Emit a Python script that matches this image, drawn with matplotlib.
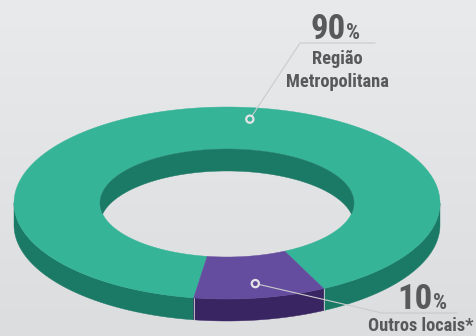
import numpy as np
import matplotlib.pyplot as plt
from matplotlib.colors import LinearSegmentedColormap
from matplotlib.patches import Polygon, Circle

# shares of the ring
labels = [['Região', 'Metropolitana'], ['Outros locais*']]
values = [90, 10]
pct_text = ['90', '10']

top_colors = ['#36b498', '#644d9e']
side_colors = ['#1b7a66', '#3a2563']
ink = '#58595b'
font = ['Roboto Condensed', 'DejaVu Sans']

# ellipse geometry of the ring (pixel space, y pointing down)
cx, cy = 227, 203
a_out, b_out = 213, 96
a_in, b_in = 127, 54
depth = 22
start = 261.0  # small slice centred near the front


def ell(a, b, t, dy=0.0):
    t = np.radians(t)
    return np.column_stack([cx + a * np.cos(t), cy + dy - b * np.sin(t)])


fig = plt.figure(figsize=(4.76, 3.36), dpi=100)
ax = fig.add_axes([0, 0, 1, 1])
ax.set_xlim(0, 476)
ax.set_ylim(336, 0)
ax.axis('off')

# soft grey backdrop
grad = np.linspace(0, 1, 256)[:, None]
bg = LinearSegmentedColormap.from_list('bg', ['#e9eaeb', '#dcdddf'])
ax.imshow(grad, extent=[0, 476, 336, 0], cmap=bg, aspect='auto', zorder=0)

# angle span of each slice: big one first, small one starting at `start`
small = values[1] / sum(values) * 360
spans = [(start + small, start + 360), (start, start + small)]

# outer side wall (front half only)
for (t0, t1), col in zip(spans, side_colors):
    for lo, hi in [(180, 360), (540, 720)]:
        s, e = max(t0, lo), min(t1, hi)
        if e <= s:
            continue
        t = np.linspace(s, e, 120)
        pts = np.vstack([ell(a_out, b_out, t), ell(a_out, b_out, t[::-1], depth)])
        ax.add_patch(Polygon(pts, closed=True, fc=col, ec=col, lw=0.3, zorder=2))

# thin seam between side colours
for t in spans[1]:
    p = ell(a_out, b_out, [t])[0]
    ax.plot([p[0], p[0]], [p[1], p[1] + depth], color='#cfd0d2', lw=0.6, zorder=3)

# top face
for (t0, t1), col in zip(spans, top_colors):
    t = np.linspace(t0, t1, 300)
    pts = np.vstack([ell(a_out, b_out, t), ell(a_in, b_in, t[::-1])])
    ax.add_patch(Polygon(pts, closed=True, fc=col, ec=col, lw=0.3, zorder=4))

# inner back wall seen through the hole
al = np.degrees(np.arcsin(depth / (2 * b_in)))
t = np.linspace(-al, 180 + al, 200)
s = np.linspace(180 - al, al, 200)
pts = np.vstack([ell(a_in, b_in, t), ell(a_in, b_in, s, depth)])
ax.add_patch(Polygon(pts, closed=True, fc=side_colors[0], ec=side_colors[0], lw=0.3, zorder=4))

# leader markers and labels
anchors = [ell(a_out * 0.88, b_out * 0.88, [83])[0],
           ell(a_out * 0.85, b_out * 0.85, [(spans[1][0] + spans[1][1]) / 2])[0]]
elbows = [(300, 43, 375), (382, 313, 457)]
num_x = [346, 433]
num_y = [39, 309]
text_x = [337, 421]
lab_y = [[64, 87], [331]]

for i in range(2):
    px, py = anchors[i]
    ex, ey, ex2 = elbows[i]
    ax.plot([px, ex, ex2], [py, ey, ey], color='#cacbcd', lw=0.8, zorder=5)
    ax.add_patch(Circle((px, py), 3.6, fc=top_colors[i], ec='#e4e4e6', lw=1.6, zorder=6))
    ax.text(num_x[i], num_y[i], pct_text[i], ha='right', va='baseline', color=ink,
            fontsize=25, fontweight='bold', family=font, zorder=7)
    ax.text(num_x[i], num_y[i], '%', ha='left', va='baseline', color=ink,
            fontsize=16, fontweight='bold', family=font, zorder=7)
    for line, y in zip(labels[i], lab_y[i]):
        ax.text(text_x[i], y, line, ha='center', va='baseline', color=ink,
                fontsize=13.2, fontweight='bold', family=font, zorder=7)

fig.savefig('out.png', dpi=100)
